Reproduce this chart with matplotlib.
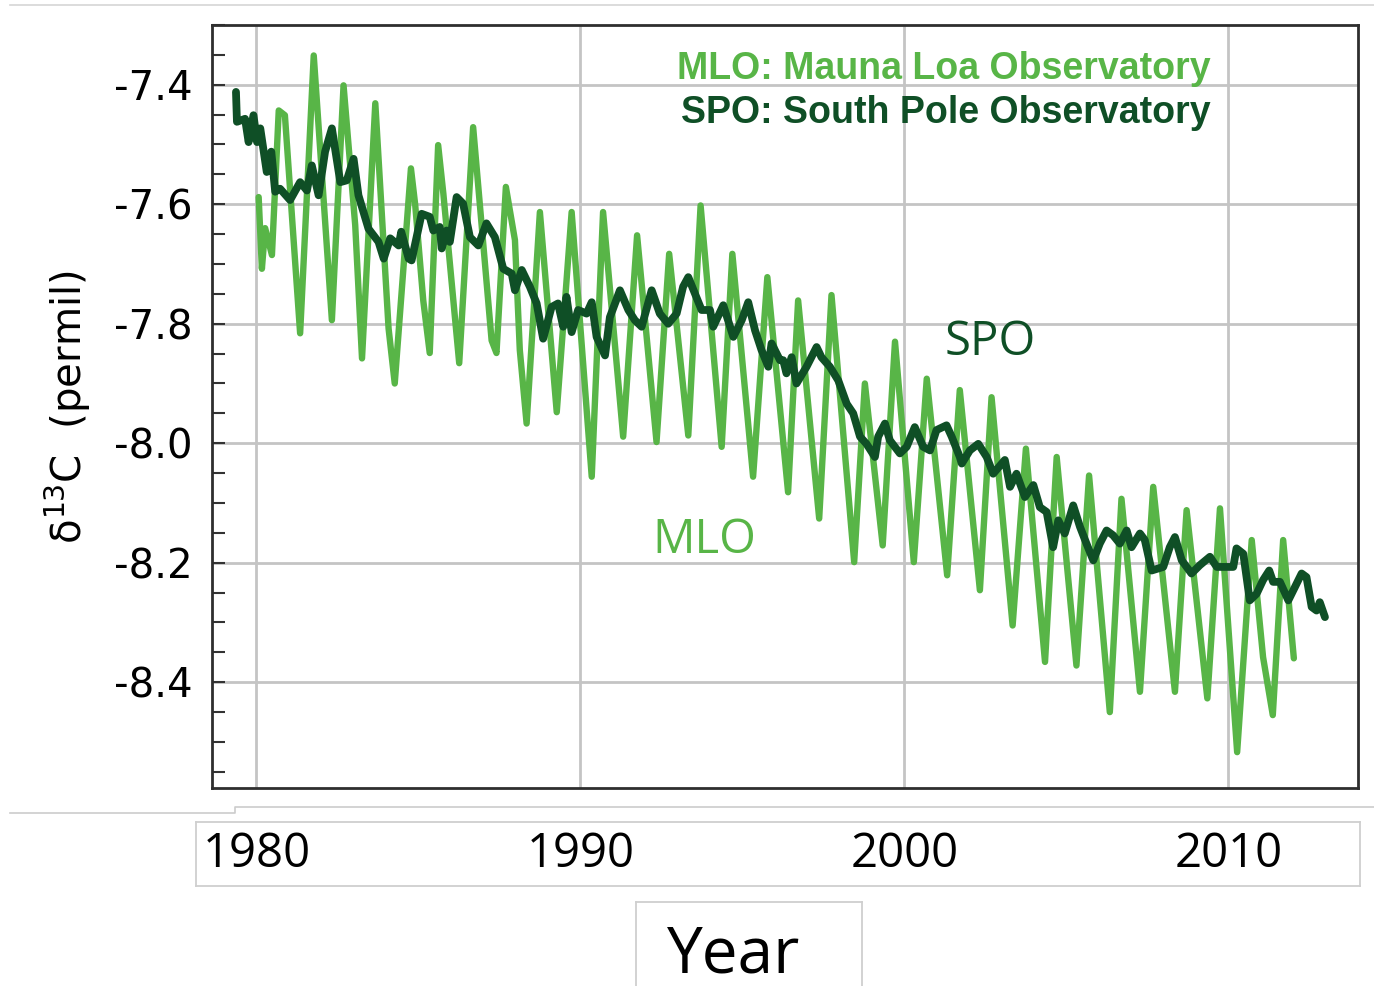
import matplotlib
matplotlib.use("Agg")
import matplotlib.pyplot as plt
import matplotlib.transforms as mtransforms
from matplotlib.ticker import MultipleLocator
from matplotlib.lines import Line2D

# MLO seasonal turning points (year, delta13C permil)
MLO_YEAR = [1980.07, 1980.17, 1980.27, 1980.48, 1980.69, 1980.88, 1981.35, 1981.77,
            1982.33, 1982.69, 1983.05, 1983.26, 1983.67, 1984.08, 1984.27, 1984.77,
            1984.90, 1985.15, 1985.35, 1985.61, 1985.77, 1986.26, 1986.69, 1987.26,
            1987.41, 1987.70, 1987.98, 1988.13, 1988.34, 1988.75, 1989.27, 1989.73,
            1990.35, 1990.70, 1991.32, 1991.75, 1992.35, 1992.74, 1993.33, 1993.71,
            1994.36, 1994.69, 1995.33, 1995.77, 1996.41, 1996.72, 1997.37, 1997.75,
            1998.45, 1998.78, 1999.33, 1999.71, 2000.29, 2000.69, 2001.32, 2001.71,
            2002.33, 2002.69, 2003.34, 2003.75, 2004.34, 2004.70, 2005.31, 2005.70,
            2006.34, 2006.70, 2007.27, 2007.68, 2008.35, 2008.71, 2009.35, 2009.74,
            2010.27, 2010.72, 2011.07, 2011.37, 2011.69, 2012.02]
MLO_D13C = [-7.588, -7.708, -7.640, -7.685, -7.443, -7.451, -7.816, -7.351,
            -7.794, -7.401, -7.635, -7.858, -7.431, -7.808, -7.900, -7.540,
            -7.600, -7.761, -7.849, -7.501, -7.582, -7.866, -7.471, -7.828,
            -7.849, -7.571, -7.660, -7.844, -7.967, -7.613, -7.948, -7.613,
            -8.056, -7.613, -7.989, -7.652, -7.998, -7.683, -7.987, -7.602,
            -8.006, -7.683, -8.056, -7.722, -8.082, -7.761, -8.126, -7.752,
            -8.199, -7.900, -8.171, -7.830, -8.199, -7.892, -8.221, -7.911,
            -8.246, -7.923, -8.305, -8.009, -8.366, -8.023, -8.372, -8.054,
            -8.450, -8.093, -8.416, -8.073, -8.416, -8.112, -8.427, -8.109,
            -8.517, -8.162, -8.358, -8.455, -8.162, -8.360]

SPO_YEAR = [1979.37, 1979.40, 1979.65, 1979.76, 1979.91, 1980.02, 1980.12, 1980.32,
            1980.46, 1980.58, 1980.73, 1981.04, 1981.35, 1981.56, 1981.71, 1981.92,
            1982.12, 1982.33, 1982.59, 1982.79, 1983.00, 1983.15, 1983.46, 1983.77,
            1983.93, 1984.13, 1984.39, 1984.47, 1984.70, 1984.79, 1985.10, 1985.35,
            1985.46, 1985.66, 1985.72, 1985.87, 1985.97, 1986.18, 1986.38, 1986.59,
            1986.85, 1987.10, 1987.36, 1987.62, 1987.88, 1987.98, 1988.19, 1988.44,
            1988.65, 1988.85, 1989.11, 1989.31, 1989.47, 1989.57, 1989.73, 1989.93,
            1990.19, 1990.35, 1990.50, 1990.76, 1990.91, 1991.22, 1991.48, 1991.68,
            1991.89, 1992.20, 1992.45, 1992.71, 1992.97, 1993.17, 1993.33, 1993.53,
            1993.74, 1994.00, 1994.10, 1994.41, 1994.72, 1994.98, 1995.18, 1995.39,
            1995.59, 1995.80, 1995.90, 1996.16, 1996.26, 1996.36, 1996.52, 1996.67,
            1996.98, 1997.29, 1997.44, 1997.70, 1997.96, 1998.22, 1998.42, 1998.63,
            1998.83, 1999.09, 1999.19, 1999.40, 1999.55, 1999.86, 2000.07, 2000.32,
            2000.58, 2000.79, 2000.99, 2001.30, 2001.46, 2001.71, 2001.77, 2002.02,
            2002.28, 2002.54, 2002.74, 2003.10, 2003.26, 2003.46, 2003.72, 2003.98,
            2004.18, 2004.39, 2004.59, 2004.75, 2004.95, 2005.21, 2005.42, 2005.62,
            2005.83, 2006.03, 2006.24, 2006.44, 2006.65, 2006.86, 2007.01, 2007.27,
            2007.42, 2007.63, 2007.99, 2008.19, 2008.35, 2008.56, 2008.86, 2009.12,
            2009.43, 2009.64, 2010.15, 2010.25, 2010.46, 2010.66, 2010.87, 2011.07,
            2011.26, 2011.38, 2011.59, 2011.85, 2012.05, 2012.26, 2012.41, 2012.57,
            2012.72, 2012.82, 2012.98]
SPO_D13C = [-7.412, -7.462, -7.457, -7.496, -7.451, -7.496, -7.473, -7.546,
            -7.512, -7.579, -7.574, -7.593, -7.563, -7.577, -7.535, -7.585,
            -7.512, -7.473, -7.563, -7.560, -7.524, -7.585, -7.641, -7.663,
            -7.691, -7.657, -7.669, -7.646, -7.691, -7.694, -7.616, -7.621,
            -7.644, -7.638, -7.674, -7.644, -7.663, -7.588, -7.599, -7.655,
            -7.669, -7.632, -7.655, -7.708, -7.716, -7.744, -7.710, -7.738,
            -7.766, -7.825, -7.772, -7.766, -7.805, -7.755, -7.814, -7.777,
            -7.783, -7.764, -7.822, -7.853, -7.789, -7.744, -7.777, -7.794,
            -7.805, -7.744, -7.783, -7.800, -7.783, -7.738, -7.722, -7.749,
            -7.777, -7.777, -7.805, -7.769, -7.822, -7.794, -7.764, -7.811,
            -7.844, -7.872, -7.833, -7.861, -7.861, -7.883, -7.856, -7.900,
            -7.872, -7.839, -7.856, -7.872, -7.895, -7.934, -7.950, -7.989,
            -8.001, -8.023, -7.989, -7.967, -7.995, -8.017, -8.006, -7.973,
            -8.006, -8.012, -7.978, -7.970, -7.989, -8.023, -8.034, -8.012,
            -8.001, -8.023, -8.051, -8.028, -8.073, -8.051, -8.090, -8.070,
            -8.107, -8.115, -8.174, -8.129, -8.151, -8.104, -8.140, -8.168,
            -8.196, -8.168, -8.146, -8.154, -8.168, -8.146, -8.174, -8.151,
            -8.162, -8.213, -8.207, -8.174, -8.157, -8.196, -8.218, -8.204,
            -8.190, -8.207, -8.207, -8.176, -8.185, -8.263, -8.252, -8.229,
            -8.213, -8.232, -8.232, -8.263, -8.241, -8.218, -8.224, -8.274,
            -8.280, -8.266, -8.291]

Y_TICKS = [-7.4, -7.6, -7.8, -8.0, -8.2, -8.4]
X_TICKS = [1980, 1990, 2000, 2010]
XLIM = (1978.63, 2014.0)
YLIM = (-8.577, -7.300)

MLO_COLOR = "#58b547"
SPO_COLOR = "#0f4f26"
GRID = "#c4c4c4"
BOX = "#cfcfcf"
SANS2 = ["Open Sans", "DejaVu Sans"]

W, H = 1374, 986
fig = plt.figure(figsize=(W / 100, H / 100), dpi=100)


def px_axes(l, t, r, b):
    return fig.add_axes([l / W, 1 - b / H, (r - l) / W, (b - t) / H])


# ---- main panel ----
ax = px_axes(212, 25, 1358, 788)
ax.set_xlim(*XLIM)
ax.set_ylim(*YLIM)
ax.set_xticks(X_TICKS)
ax.set_yticks(Y_TICKS)
ax.set_yticklabels([f"{v:.1f}" for v in Y_TICKS], fontsize=29)
ax.yaxis.set_minor_locator(MultipleLocator(0.05))
ax.tick_params(axis="y", which="both", direction="in", length=9, width=1.5,
               color="#333333", pad=14)
ax.tick_params(axis="x", length=0, labelbottom=False)
ax.grid(which="major", color=GRID, lw=2)
ax.set_axisbelow(True)
for sp in ax.spines.values():
    sp.set_color("#2e2e2e")
    sp.set_linewidth(2)

ax.plot(MLO_YEAR, MLO_D13C, color=MLO_COLOR, lw=4.6, solid_joinstyle="round",
        solid_capstyle="round", zorder=3)
ax.plot(SPO_YEAR, SPO_D13C, color=SPO_COLOR, lw=5.6, solid_joinstyle="round",
        solid_capstyle="round", zorder=4)

ax.text(0.871, 0.929, "MLO: Mauna Loa Observatory", transform=ax.transAxes,
        ha="right", va="baseline", fontsize=27, fontweight="bold",
        family="Liberation Sans", color=MLO_COLOR)
ax.text(0.871, 0.872, "SPO: South Pole Observatory", transform=ax.transAxes,
        ha="right", va="baseline", fontsize=27, fontweight="bold",
        family="Liberation Sans", color=SPO_COLOR)
ax.text(2002.64, -7.853, "SPO", ha="center", va="baseline", fontsize=34,
        family=SANS2, color=SPO_COLOR)
ax.text(1993.81, -8.184, "MLO", ha="center", va="baseline", fontsize=34,
        family=SANS2, color=MLO_COLOR)

fig.text(68 / W, 1 - 407 / H, "δ$^{13}$C  (permil)", rotation=90, fontsize=29,
         ha="center", va="center")

# ---- x tick label strip ----
box = px_axes(196, 822, 1360, 886)
slope = (XLIM[1] - XLIM[0]) / (1358 - 212)
box.set_xlim(XLIM[0] - (212 - 196) * slope, XLIM[1] + (1360 - 1358) * slope)
box.set_ylim(0, 1)
box.set_xticks([])
box.set_yticks([])
for sp in box.spines.values():
    sp.set_color(BOX)
    sp.set_linewidth(1.3)
trans = mtransforms.blended_transform_factory(box.transData, box.transAxes)
for yr in X_TICKS:
    box.text(yr, 0.30, str(yr), transform=trans, ha="center", va="baseline",
             fontsize=34, family=SANS2)

# ---- "Year" box ----
ybox = px_axes(636, 902, 862, 990)
ybox.set_xticks([])
ybox.set_yticks([])
for sp in ybox.spines.values():
    sp.set_color(BOX)
    sp.set_linewidth(1.3)
ybox.text(0.43, 0.2, "Year", transform=ybox.transAxes, ha="center", va="baseline",
          fontsize=46, family=SANS2)

# ---- thin separator lines ----
fig.add_artist(Line2D([10 / W, 1], [1 - 5 / H] * 2, color="#d6d6d6", lw=1.2))
fig.add_artist(Line2D([10 / W, 235 / W, 235 / W, 1],
                      [1 - 813 / H, 1 - 813 / H, 1 - 807 / H, 1 - 807 / H],
                      color="#cccccc", lw=1.2))

fig.savefig("out.png", dpi=100)
